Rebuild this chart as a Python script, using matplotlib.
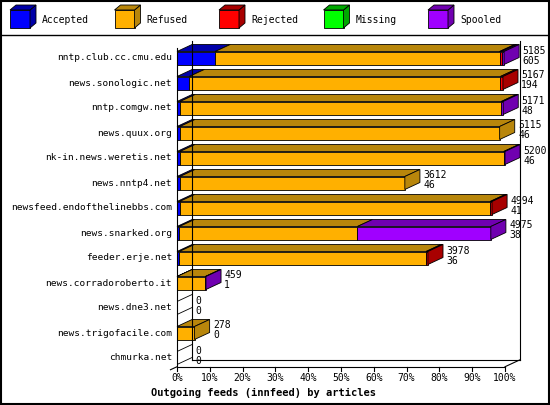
import matplotlib.pyplot as plt
from matplotlib.patches import Polygon, Rectangle
import numpy as np

hosts = ["nntp.club.cc.cmu.edu", "news.sonologic.net", "nntp.comgw.net", "news.quux.org",
         "nk-in.news.weretis.net", "news.nntp4.net", "newsfeed.endofthelinebbs.com",
         "news.snarked.org", "feeder.erje.net", "news.corradoroberto.it", "news.dne3.net",
         "news.trigofacile.com", "chmurka.net"]
accepted = [605, 194, 48, 46, 46, 46, 41, 38, 36, 1, 0, 0, 0]
refused = [4510, 4933, 5093, 5069, 5134, 3566, 4923, 2822, 3912, 448, 0, 278, 0]
rejected = [30, 40, 0, 0, 0, 0, 30, 0, 30, 0, 0, 0, 0]
missing = [0] * 13
spooled = [40, 0, 30, 0, 20, 0, 0, 2115, 0, 10, 0, 0, 0]
totals = [5185, 5167, 5171, 5115, 5200, 3612, 4994, 4975, 3978, 459, 0, 278, 0]
labels2 = [605, 194, 48, 46, 46, 46, 41, 38, 36, 1, 0, 0, 0]
names = ["Accepted", "Refused", "Rejected", "Missing", "Spooled"]
front = ["#0000ff", "#ffb000", "#ff0000", "#00ff00", "#a000ff"]
dark = ["#0000a8", "#b8860b", "#a80000", "#00a800", "#7000b0"]

font = "DejaVu Sans Mono"
fig = plt.figure(figsize=(5.5, 4.05), dpi=100)
fig.patches.append(Rectangle((0.002, 0.002), 0.996, 0.995, transform=fig.transFigure,
                             fill=False, lw=1.5, ec="black"))
fig.add_artist(plt.Line2D([0, 1], [1 - 35 / 405] * 2, color="black", lw=1))

# legend
lg = fig.add_axes([0, 1 - 35 / 405, 1, 35 / 405])
lg.set_xlim(0, 550)
lg.set_ylim(35, 0)
lg.axis("off")
for i, n in enumerate(names):
    x0 = 10 + i * 104.5
    lg.add_patch(Rectangle((x0, 10), 20, 18, fc=front[i], ec="black", lw=0.6))
    lg.add_patch(Polygon([(x0 + 20, 10), (x0 + 26, 5), (x0 + 26, 23), (x0 + 20, 28)],
                         fc=dark[i], ec="black", lw=0.6))
    lg.add_patch(Polygon([(x0, 10), (x0 + 6, 5), (x0 + 26, 5), (x0 + 20, 10)],
                         fc=dark[i], ec="black", lw=0.6))
    lg.text(x0 + 32, 20, n, fontsize=7, family=font, va="center")

ax = fig.add_axes([177 / 550, 1 - 375.5 / 405, 328 / 550, 340 / 405])
ax.set_xlim(0, 100)
ax.set_ylim(12.7, -0.9)
ax.axis("off")
dx, dy = 4.6, -0.28
h = 0.52
bot = 12.7 - 0.35
vmax = max(totals)

# walls
ax.plot([dx, dx], [-0.7, bot + dy], color="black", lw=0.8, clip_on=False)
ax.plot([0, 0], [-0.7 - dy, bot], color="black", lw=0.8, clip_on=False)
ax.plot([dx, 100 + dx], [bot + dy] * 2, color="black", lw=0.8, clip_on=False)
ax.plot([0, 100], [bot] * 2, color="black", lw=0.8, clip_on=False)
ax.plot([100, 100 + dx], [bot, bot + dy], color="black", lw=0.8, clip_on=False)
ax.plot([100 + dx, 100 + dx], [-0.7, bot + dy], color="black", lw=0.8, clip_on=False)
ax.plot([-2, 0], [bot + 0.12, bot], color="black", lw=0.8, clip_on=False)
for t in range(0, 101, 10):
    ax.plot([t, t], [bot, bot + 0.15], color="black", lw=0.8, clip_on=False)
    ax.text(t, bot + 0.25, f"{t}%", fontsize=7, family=font, ha="center", va="top")
ax.text(-8, bot + 0.85, "Outgoing feeds (innfeed) by articles", fontsize=7.5, family=font,
        weight="bold", ha="left", va="top")

series = [accepted, refused, rejected, missing, spooled]
for r, host in enumerate(hosts):
    ax.text(-1.5, r, host, fontsize=6.8, family=font, ha="right", va="center")
    left = 0
    last = None
    for s in range(5):
        w = series[s][r] / vmax * 100
        if w <= 0:
            continue
        y0, y1 = r + h / 2, r - h / 2
        ax.add_patch(Polygon([(left, y1), (left + dx, y1 + dy), (left + w + dx, y1 + dy),
                              (left + w, y1)], fc=dark[s], ec="black", lw=0.6, clip_on=False))
        ax.barh(r, w, left=left, height=h, color=front[s], ec="black", lw=0.6, clip_on=False)
        left += w
        last = s
    if last is not None:
        ax.add_patch(Polygon([(left, r + h / 2), (left + dx, r + h / 2 + dy), (left + dx, r - h / 2 + dy),
                              (left, r - h / 2)], fc=dark[last], ec="black", lw=0.6, clip_on=False))
    else:
        ax.plot([0, dx], [r + h / 2, r + h / 2 + dy], color="black", lw=0.6)
        ax.plot([0, dx], [r - h / 2, r - h / 2 + dy], color="black", lw=0.6)
    xl = totals[r] / vmax * 100 + dx + 1
    ax.text(xl, r - 0.1, str(totals[r]), fontsize=7, family=font, va="bottom")
    ax.text(xl, r - 0.1, str(labels2[r]), fontsize=7, family=font, va="top")

fig.savefig("out.png", dpi=100)
